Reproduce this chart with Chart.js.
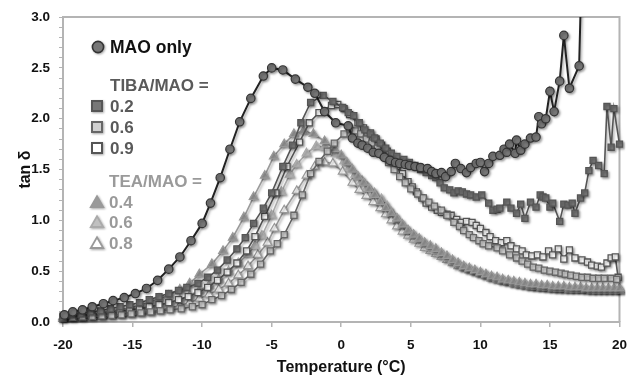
<!DOCTYPE html>
<html><head><meta charset="utf-8">
<script src="https://cdn.jsdelivr.net/npm/chart.js@4"></script>
<style>
html,body{margin:0;padding:0;background:#fff;}
#wrap{position:relative;width:637px;height:377px;}
#c{position:absolute;left:0;top:0;}
.lg{position:absolute;font-family:"Liberation Sans",Arial,sans-serif;font-weight:bold;font-size:17px;line-height:17px;white-space:nowrap;}
.mk{position:absolute;filter:drop-shadow(1.5px 1.5px 1.2px rgba(0,0,0,0.35));}
</style></head>
<body>
<div id="wrap">
<canvas id="c" width="637" height="377"></canvas>
</div>
<script>
// ---- data (temperature °C, tan δ) ----
const xTicks = [-20,-15,-10,-5,0,5,10,15,20];
const yTicks = [0.0,0.5,1.0,1.5,2.0,2.5,3.0];

const maoOnly = [[-19.9,0.07],[-19.3,0.10],[-18.6,0.12],[-17.9,0.15],[-17.1,0.18],[-16.4,0.21],[-15.6,0.24],[-14.8,0.28],[-14.0,0.33],[-13.2,0.41],[-12.4,0.52],[-11.6,0.64],[-10.8,0.80],[-10.0,0.97],[-9.4,1.17],[-8.7,1.42],[-8.0,1.70],[-7.3,1.97],[-6.5,2.20],[-5.6,2.42],[-5.0,2.50],[-4.2,2.48],[-3.3,2.39],[-2.4,2.31],[-1.9,2.25],[-1.2,2.07],[-0.4,1.96],[0.5,1.93],[0.8,1.81],[1.2,1.76],[1.5,1.74],[1.9,1.71],[2.3,1.67],[2.7,1.66],[3.1,1.62],[3.5,1.59],[3.9,1.57],[4.2,1.56],[4.6,1.55],[4.9,1.54],[5.3,1.53],[5.7,1.52],[6.2,1.51],[6.5,1.48],[6.8,1.46],[7.2,1.47],[7.5,1.43],[7.9,1.48],[8.2,1.56],[8.6,1.51],[9.0,1.47],[9.3,1.52],[9.7,1.56],[10.0,1.57],[10.3,1.48],[10.6,1.56],[10.9,1.63],[11.4,1.64],[11.7,1.70],[11.9,1.67],[12.1,1.75],[12.5,1.66],[12.6,1.79],[12.9,1.69],[13.2,1.75],[13.6,1.81],[14.0,1.82],[14.2,2.02],[14.4,1.95],[14.7,2.00],[15.0,2.27],[15.3,2.07],[15.7,2.37],[16.0,2.82],[16.4,2.30],[17.1,2.52],[17.3,3.60]];

const tiba02 = [[-20.0,0.06],[-19.4,0.07],[-18.7,0.08],[-18.0,0.10],[-17.3,0.11],[-16.6,0.13],[-15.9,0.15],[-15.2,0.17],[-14.5,0.19],[-13.8,0.22],[-13.1,0.25],[-12.4,0.28],[-11.7,0.31],[-11.1,0.34],[-10.3,0.38],[-9.6,0.44],[-8.9,0.51],[-8.2,0.61],[-7.5,0.72],[-6.9,0.83],[-6.3,0.97],[-5.6,1.12],[-5.0,1.27],[-4.2,1.53],[-3.5,1.74],[-2.9,1.96],[-2.2,2.16],[-1.3,2.23],[-0.6,2.17],[0.1,2.11],[0.5,2.06],[0.9,2.03],[1.3,1.96],[1.7,1.89],[2.1,1.85],[2.4,1.81],[2.8,1.76],[3.2,1.71],[3.6,1.66],[4.0,1.63],[4.5,1.60],[4.9,1.57],[5.3,1.54],[5.7,1.50],[6.1,1.47],[6.5,1.44],[6.8,1.42],[7.1,1.37],[7.4,1.32],[7.8,1.30],[8.1,1.27],[8.4,1.29],[8.7,1.28],[9.0,1.26],[9.3,1.25],[9.7,1.23],[10.1,1.25],[10.6,1.17],[10.9,1.10],[11.2,1.11],[11.4,1.12],[11.9,1.18],[12.2,1.12],[12.6,1.07],[12.9,1.16],[13.2,1.02],[13.6,1.18],[14.0,1.13],[14.3,1.25],[14.5,1.23],[14.7,1.22],[15.0,1.13],[15.2,1.17],[15.7,0.99],[16.0,1.16],[16.3,1.15],[16.6,1.17],[16.8,1.07],[17.2,1.22],[17.5,1.27],[17.8,1.49],[18.1,1.59],[18.5,1.54],[18.9,1.46],[19.1,2.12],[19.4,1.72],[19.6,2.10],[20.0,1.75]];

const tiba06 = [[-20.0,0.04],[-19.3,0.045],[-18.6,0.05],[-17.9,0.055],[-17.2,0.06],[-16.5,0.065],[-15.8,0.07],[-15.1,0.08],[-14.4,0.09],[-13.7,0.10],[-13.0,0.11],[-12.3,0.12],[-11.5,0.13],[-10.7,0.15],[-10.0,0.17],[-9.3,0.22],[-8.6,0.26],[-7.9,0.32],[-7.2,0.39],[-6.5,0.47],[-5.8,0.57],[-5.1,0.70],[-4.6,0.77],[-4.1,0.86],[-3.4,1.05],[-2.8,1.25],[-2.2,1.46],[-1.6,1.58],[-1.0,1.68],[-0.5,1.76],[0.2,1.85],[0.6,1.90],[1.0,1.88],[1.4,1.85],[1.8,1.80],[2.2,1.76],[2.6,1.71],[3.0,1.64],[3.4,1.57],[3.8,1.50],[4.2,1.43],[4.6,1.37],[5.0,1.31],[5.5,1.26],[5.9,1.22],[6.3,1.18],[6.7,1.14],[7.2,1.10],[7.6,1.05],[8.1,0.98],[8.5,0.94],[8.8,0.90],[9.2,0.86],[9.5,0.83],[9.9,0.80],[10.2,0.77],[10.6,0.75],[11.2,0.73],[11.6,0.70],[12.1,0.66],[12.6,0.63],[13.0,0.60],[13.4,0.57],[13.8,0.54],[14.2,0.53],[14.6,0.51],[15.0,0.50],[15.4,0.49],[15.8,0.48],[16.1,0.47],[16.5,0.46],[16.9,0.45],[17.3,0.44],[17.7,0.44],[18.1,0.43],[18.5,0.43],[18.9,0.43],[19.4,0.43],[19.8,0.42]];

const tiba09 = [[-20.0,0.05],[-19.4,0.055],[-18.7,0.06],[-18.0,0.07],[-17.3,0.08],[-16.6,0.09],[-15.9,0.10],[-15.2,0.12],[-14.5,0.13],[-13.8,0.15],[-13.1,0.17],[-12.4,0.19],[-11.7,0.22],[-11.0,0.25],[-10.3,0.29],[-9.6,0.34],[-8.9,0.41],[-8.2,0.49],[-7.5,0.58],[-6.8,0.70],[-6.2,0.84],[-5.5,1.04],[-4.7,1.27],[-3.9,1.53],[-3.0,1.77],[-2.3,1.96],[-1.6,2.06],[-0.7,2.13],[-0.25,2.14],[0.2,2.10],[0.6,2.04],[1.2,1.96],[1.6,1.91],[2.1,1.86],[2.5,1.80],[2.9,1.74],[3.3,1.68],[3.7,1.60],[4.0,1.53],[4.4,1.46],[4.8,1.38],[5.1,1.33],[5.4,1.28],[5.8,1.22],[6.1,1.17],[6.5,1.13],[6.9,1.10],[7.2,1.08],[7.6,1.06],[7.9,1.05],[8.3,1.01],[8.6,0.98],[9.0,0.99],[9.4,0.98],[9.7,0.95],[10.0,0.92],[10.4,0.88],[10.7,0.84],[11.1,0.80],[11.5,0.78],[11.9,0.80],[12.2,0.75],[12.6,0.72],[13.0,0.70],[13.3,0.66],[13.7,0.65],[14.1,0.66],[14.5,0.64],[14.9,0.70],[15.2,0.66],[15.6,0.72],[16.0,0.62],[16.4,0.71],[16.8,0.63],[17.3,0.61],[17.7,0.59],[18.0,0.56],[18.4,0.55],[18.7,0.54],[19.1,0.58],[19.4,0.63],[19.7,0.64],[19.9,0.44]];

const tea04 = [[-20.0,0.05],[-19.3,0.06],[-18.6,0.07],[-17.9,0.08],[-17.2,0.09],[-16.5,0.11],[-15.8,0.12],[-15.1,0.14],[-14.4,0.17],[-13.7,0.20],[-13.1,0.23],[-12.4,0.26],[-11.6,0.32],[-10.9,0.38],[-10.2,0.47],[-9.3,0.57],[-8.5,0.70],[-7.8,0.83],[-7.0,1.03],[-6.3,1.23],[-5.5,1.44],[-4.85,1.63],[-4.1,1.75],[-3.4,1.85],[-2.7,1.88],[-2.0,1.85],[-1.2,1.78],[-0.5,1.70],[0.0,1.64],[0.4,1.57],[0.8,1.50],[1.2,1.43],[1.6,1.37],[2.0,1.31],[2.4,1.25],[2.8,1.18],[3.2,1.12],[3.6,1.07],[4.0,1.02],[4.4,0.96],[4.8,0.90],[5.2,0.86],[5.6,0.82],[6.0,0.78],[6.4,0.75],[6.8,0.72],[7.2,0.68],[7.6,0.65],[8.0,0.61],[8.4,0.58],[8.8,0.55],[9.2,0.53],[9.6,0.51],[10.0,0.49],[10.4,0.47],[10.8,0.45],[11.2,0.44],[11.6,0.42],[12.0,0.41],[12.4,0.40],[12.8,0.39],[13.2,0.38],[13.6,0.37],[14.0,0.37],[14.4,0.36],[14.8,0.36],[15.2,0.35],[15.6,0.35],[16.0,0.35],[16.4,0.34],[16.8,0.34],[17.2,0.34],[17.6,0.33],[18.0,0.33],[18.4,0.33],[18.8,0.33],[19.2,0.33],[19.6,0.33],[20.0,0.33]];

const tea06 = [[-20.0,0.04],[-19.3,0.045],[-18.6,0.05],[-17.9,0.06],[-17.2,0.07],[-16.5,0.08],[-15.8,0.09],[-15.1,0.10],[-14.4,0.12],[-13.7,0.14],[-13.0,0.16],[-12.3,0.19],[-11.6,0.22],[-10.9,0.26],[-10.2,0.31],[-9.5,0.36],[-8.8,0.42],[-8.1,0.50],[-7.4,0.58],[-6.7,0.67],[-6.2,0.75],[-5.7,0.85],[-5.0,1.05],[-4.3,1.28],[-3.7,1.45],[-3.2,1.55],[-2.5,1.66],[-1.8,1.73],[-1.2,1.72],[-0.4,1.66],[0.2,1.58],[0.6,1.52],[1.0,1.45],[1.5,1.39],[1.9,1.33],[2.4,1.27],[2.9,1.21],[3.3,1.14],[3.6,1.08],[4.0,1.01],[4.4,0.95],[4.8,0.90],[5.2,0.85],[5.6,0.81],[6.0,0.77],[6.4,0.73],[6.8,0.70],[7.2,0.67],[7.6,0.63],[8.0,0.60],[8.4,0.57],[8.8,0.54],[9.2,0.52],[9.6,0.50],[10.0,0.48],[10.4,0.46],[10.8,0.44],[11.2,0.42],[11.6,0.41],[12.0,0.40],[12.4,0.38],[12.8,0.37],[13.2,0.36],[13.6,0.35],[14.0,0.35],[14.4,0.34],[14.8,0.34],[15.2,0.33],[15.6,0.33],[16.0,0.33],[16.4,0.32],[16.8,0.32],[17.2,0.32],[17.6,0.32],[18.0,0.31],[18.4,0.31],[18.8,0.31],[19.2,0.31],[19.6,0.31],[20.0,0.31]];

const tea08 = [[-20.0,0.03],[-19.3,0.035],[-18.6,0.04],[-17.9,0.045],[-17.2,0.05],[-16.5,0.06],[-15.8,0.07],[-15.1,0.08],[-14.4,0.09],[-13.7,0.10],[-13.0,0.12],[-12.3,0.14],[-11.6,0.16],[-10.9,0.19],[-10.2,0.23],[-9.5,0.27],[-8.8,0.32],[-8.1,0.38],[-7.4,0.46],[-6.7,0.55],[-6.0,0.66],[-5.3,0.78],[-4.8,0.92],[-4.1,1.10],[-3.2,1.29],[-2.5,1.44],[-1.9,1.53],[-1.2,1.57],[-0.6,1.56],[0.1,1.48],[0.8,1.37],[1.3,1.30],[1.8,1.24],[2.3,1.18],[2.8,1.12],[3.2,1.06],[3.6,1.00],[4.0,0.94],[4.4,0.89],[4.8,0.85],[5.2,0.81],[5.6,0.77],[6.0,0.73],[6.4,0.70],[6.8,0.67],[7.2,0.64],[7.6,0.61],[8.0,0.58],[8.4,0.55],[8.8,0.53],[9.2,0.51],[9.6,0.49],[10.0,0.47],[10.4,0.45],[10.8,0.43],[11.2,0.42],[11.6,0.40],[12.0,0.39],[12.4,0.38],[12.8,0.37],[13.2,0.36],[13.6,0.35],[14.0,0.34],[14.4,0.34],[14.8,0.33],[15.2,0.33],[15.6,0.32],[16.0,0.32],[16.4,0.32],[16.8,0.32],[17.2,0.32],[17.6,0.31],[18.0,0.31],[18.4,0.31],[18.8,0.31],[19.2,0.31],[19.6,0.31],[20.0,0.31]];

const seriesNames = ["MAO only","0.2","0.6","0.9","0.4","0.6","0.8"];

// ---- build ----
const toXY = arr => arr.map(p => ({x:p[0], y:p[1]}));
function ds(label, arr, style, line, fill, border, r, bw, lw){
  return {label, data:toXY(arr), pointStyle:style, borderColor:line, borderWidth:lw,
    pointBackgroundColor:fill, pointBorderColor:border, pointBorderWidth:bw,
    pointRadius:r, pointHoverRadius:r, tension:0, fill:false,
    clip:{left:6,right:6,top:0,bottom:6}};
}
const datasets = [
  ds(seriesNames[0], maoOnly, 'circle', '#222', '#777', '#333', 4.2, 1.2, 2),
  ds(seriesNames[1], tiba02, 'rect', '#555', '#777', '#555', 4.3, 1.3, 1.6),
  ds(seriesNames[2], tiba06, 'rect', '#666', '#d0d0d0', '#666', 4.3, 1.3, 1.6),
  ds(seriesNames[3], tiba09, 'rect', '#555', '#fff', '#555', 4.3, 1.3, 1.6),
  ds(seriesNames[4], tea04, 'triangle', '#999', '#9a9a9a', '#999', 5, 1.2, 1.6),
  ds(seriesNames[5], tea06, 'triangle', '#aaa', '#bdbdbd', '#aaa', 5, 1.2, 1.6),
  ds(seriesNames[6], tea08, 'triangle', '#999', '#fff', '#999', 5, 1.2, 1.6)
];

const shadowPlugin = {
  id:'shadow',
  beforeDatasetsDraw(chart){
    const ctx = chart.ctx; ctx.save();
    ctx.shadowColor='rgba(0,0,0,0.35)'; ctx.shadowBlur=2.5; ctx.shadowOffsetX=1.5; ctx.shadowOffsetY=1.5;
  },
  afterDatasetsDraw(chart){ chart.ctx.restore(); }
};
const framePlugin = {
  id:'frame',
  beforeDatasetsDraw(chart){
    const {ctx, chartArea:a} = chart;
    ctx.save(); ctx.strokeStyle='#b4b4b4'; ctx.lineWidth=2;
    ctx.beginPath(); ctx.moveTo(a.left, a.top); ctx.lineTo(a.right, a.top); ctx.lineTo(a.right, a.bottom); ctx.stroke();
    ctx.restore();
  }
};

const FONT = '"Liberation Sans", Arial, sans-serif';
new Chart(document.getElementById('c'), {
  type:'line',
  data:{datasets},
  plugins:[framePlugin, shadowPlugin],
  options:{
    responsive:false, animation:false, events:[],
    layout:{padding:{left:0,right:9,top:16,bottom:0}},
    plugins:{legend:{display:false}, tooltip:{enabled:false}},
    scales:{
      x:{type:'linear', min:xTicks[0], max:xTicks[xTicks.length-1],
        afterBuildTicks: s => { s.ticks = xTicks.map(v => ({value:v})); },
        ticks:{font:{family:FONT, weight:'bold', size:13.5}, color:'#111', padding:10, maxRotation:0,
          callback: v => String(v)},
        grid:{drawOnChartArea:false, drawTicks:true, tickLength:5, color:'#b4b4b4', lineWidth:1.5},
        border:{color:'#b4b4b4', width:2},
        title:{display:true, text:'Temperature (°C)', font:{family:FONT, weight:'bold', size:16}, color:'#111', padding:{top:5,bottom:0}},
        afterFit: s => { s.height = 55; }
      },
      y:{min:yTicks[0], max:yTicks[yTicks.length-1],
        afterBuildTicks: s => { const t=[]; for(let i=0;i<=30;i++) t.push({value:i/10}); s.ticks=t; },
        ticks:{font:{family:FONT, weight:'bold', size:13.5}, color:'#111', padding:9, autoSkip:false,
          callback: v => { const k = Math.round(v*10); return (k%5===0) ? (k/10).toFixed(1) : ''; }},
        grid:{drawOnChartArea:false, drawTicks:true, tickLength:4, color:'#b4b4b4', lineWidth:1},
        border:{color:'#b4b4b4', width:2},
        title:{display:true, text:'tan δ', font:{family:FONT, weight:'bold', size:16}, color:'#111', padding:{top:16,bottom:0}},
        afterFit: s => { s.width = 63; }
      }
    }
  }
});

// ---- legend (HTML text) ----
const wrap = document.getElementById('wrap');
function svgMarker(shape, cx, cy, fill, stroke){
  const d = document.createElement('div'); d.className='mk';
  d.style.left=(cx-8)+'px'; d.style.top=(cy-8)+'px';
  let inner='';
  if(shape==='circle') inner=`<circle cx="8" cy="8" r="5.6" fill="${fill}" stroke="${stroke}" stroke-width="1.6"/>`;
  if(shape==='rect') inner=`<rect x="3" y="3" width="10" height="10" fill="${fill}" stroke="${stroke}" stroke-width="2"/>`;
  if(shape==='tri') inner=`<polygon points="8,2.2 14.2,13 1.8,13" fill="${fill}" stroke="${stroke}" stroke-width="1.8" stroke-linejoin="miter"/>`;
  d.innerHTML=`<svg width="16" height="16" viewBox="0 0 16 16">${inner}</svg>`;
  wrap.appendChild(d);
}
function txt(t, x, cy, color, size){
  const d=document.createElement('div'); d.className='lg'; d.textContent=t;
  d.style.left=x+'px'; d.style.top=(cy-8.3)+'px'; d.style.color=color;
  if(size) d.style.fontSize=size+'px';
  wrap.appendChild(d);
}
svgMarker('circle', 98, 47, '#777', '#333'); txt(seriesNames[0], 110, 47, '#111', 17.5);
txt('TIBA/MAO =', 110, 85, '#5a5a5a');
svgMarker('rect', 97, 106, '#777', '#555'); txt(seriesNames[1], 110, 106, '#5a5a5a');
svgMarker('rect', 97, 127, '#d0d0d0', '#666'); txt(seriesNames[2], 110, 127, '#5a5a5a');
svgMarker('rect', 97, 148, '#fff', '#555'); txt(seriesNames[3], 110, 148, '#5a5a5a');
txt('TEA/MAO =', 109, 181, '#9a9a9a');
svgMarker('tri', 97, 202, '#9a9a9a', '#999'); txt(seriesNames[4], 109, 202, '#9a9a9a');
svgMarker('tri', 97, 222, '#c0c0c0', '#aaa'); txt(seriesNames[5], 109, 222, '#9a9a9a');
svgMarker('tri', 97, 243, '#fff', '#999'); txt(seriesNames[6], 109, 243, '#9a9a9a');
</script>
</body></html>
